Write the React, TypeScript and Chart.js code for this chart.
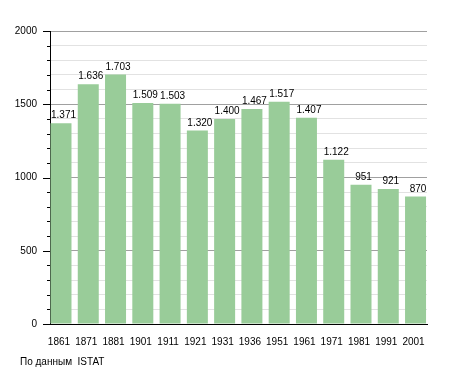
import React, { useEffect, useRef } from "react";
import { Chart, registerables } from "chart.js";

Chart.register(...registerables);

const years = ["1861", "1871", "1881", "1901", "1911", "1921", "1931", "1936", "1951", "1961", "1971", "1981", "1991", "2001"];
const population = [1371, 1636, 1703, 1509, 1503, 1320, 1400, 1467, 1517, 1407, 1122, 951, 921, 870];
const yMax = 2000;
const yMinorStep = 100;
const yMajorStep = 500;
const sourceNote = "По данным  ISTAT";

const FONT = "'Liberation Sans', Arial, sans-serif";

function fmt(v: number): string {
  const s = String(Math.round(v));
  return s.replace(/\B(?=(\d{3})+(?!\d))/g, ".");
}

const extras = {
  id: "extras",
  afterDatasetsDraw(chart: any) {
    const ctx = chart.ctx;
    const y = chart.scales.y;
    const area = chart.chartArea;
    ctx.save();
    // y tick marks
    ctx.strokeStyle = "#000";
    ctx.lineWidth = 1;
    for (const t of y.ticks) {
      const py = Math.round(y.getPixelForValue(t.value)) + 0.5;
      const len = t.value % yMajorStep === 0 ? 7 : 3;
      ctx.beginPath();
      ctx.moveTo(area.left - len, py);
      ctx.lineTo(area.left, py);
      ctx.stroke();
    }
    // value labels
    ctx.fillStyle = "#000";
    ctx.font = `10px ${FONT}`;
    ctx.textAlign = "center";
    ctx.textBaseline = "alphabetic";
    const meta = chart.getDatasetMeta(0);
    meta.data.forEach((bar: any, i: number) => {
      ctx.fillText(fmt(population[i]), bar.x + 2.5, bar.y - 5);
    });
    // source note
    ctx.textAlign = "left";
    ctx.textBaseline = "middle";
    ctx.fillText(sourceNote, 20, 362);
    ctx.restore();
  },
};

export default function App() {
  const ref = useRef<HTMLCanvasElement>(null);
  useEffect(() => {
    document.body.style.margin = "0";
    const chart = new Chart(ref.current!, {
      type: "bar",
      data: {
        datasets: [
          {
            data: population.map((v, i) => ({ x: i, y: v })),
            backgroundColor: "#99cc99",
            borderWidth: 0,
            barPercentage: 0.77,
            categoryPercentage: 1,
          },
        ],
      },
      options: {
        responsive: false,
        animation: false,
        layout: { padding: { top: 31, right: 28, left: 0, bottom: 0 } },
        plugins: { legend: { display: false }, tooltip: { enabled: false } },
        scales: {
          x: {
            type: "linear",
            offset: false,
            min: -0.403,
            max: 13.42,
            grid: { display: false, offset: false },
            border: { display: true, color: "#000", width: 1 },
            afterBuildTicks: (scale: any) => {
              scale.ticks = years.map((_, i) => ({ value: i }));
            },
            afterFit: (scale: any) => {
              scale.height = 49;
            },
            ticks: {
              autoSkip: false,
              maxRotation: 0,
              padding: 4,
              labelOffset: -2,
              color: "#000",
              font: { family: FONT, size: 10 },
              callback: (v: any) => years[v] ?? "",
            },
          },
          y: {
            min: 0,
            max: yMax,
            grid: {
              drawTicks: false,
              color: (c: any) => (c.tick.value % yMajorStep === 0 ? "#a0a0a0" : "#e2e2e2"),
            },
            border: { display: true, color: "#000", width: 1 },
            afterFit: (scale: any) => {
              scale.width = 50;
            },
            ticks: {
              stepSize: yMinorStep,
              autoSkip: false,
              padding: 13,
              color: "#000",
              font: { family: FONT, size: 10 },
              callback: (v: any) => (v % yMajorStep === 0 ? String(v) : ""),
            },
          },
        },
      },
      plugins: [extras],
    } as any);
    return () => chart.destroy();
  }, []);
  return (
    <div style={{ width: 455, height: 373 }}>
      <canvas ref={ref} width={455} height={373} />
    </div>
  );
}
